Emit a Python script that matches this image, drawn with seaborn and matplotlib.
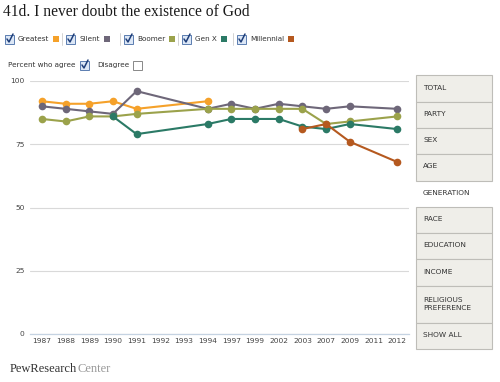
import numpy as np
import pandas as pd
import matplotlib.pyplot as plt
import seaborn as sns
from matplotlib.patches import Rectangle
from matplotlib.lines import Line2D

# ------------------------
# Data
# ------------------------
nan = np.nan
years = ["1987", "1988", "1989", "1990", "1991", "1992", "1993", "1994",
         "1997", "1999", "2002", "2003", "2007", "2009", "2011", "2012"]
greatest = [92, 91, 91, 92, 89, nan, nan, 92, nan, nan, nan, nan, nan, nan, nan, nan]
silent = [90, 89, 88, 87, 96, nan, nan, 89, 91, 89, 91, 90, 89, 90, nan, 89]
boomer = [85, 84, 86, 86, 87, nan, nan, 89, 89, 89, 89, 89, 83, 84, nan, 86]
gen_x = [nan, nan, nan, 86, 79, nan, nan, 83, 85, 85, 85, 82, 81, 83, nan, 81]
millennial = [nan, nan, nan, nan, nan, nan, nan, nan, nan, nan, nan, 81, 83, 76, nan, 68]

generations = ["Greatest", "Silent", "Boomer", "Gen X", "Millennial"]
gen_colors = ["#F5A12A", "#6E6779", "#9BA24B", "#2B7A66", "#B5591F"]
y_ticks = [0, 25, 50, 75, 100]
buttons = ["TOTAL", "PARTY", "SEX", "AGE", "GENERATION", "RACE", "EDUCATION",
           "INCOME", "RELIGIOUS\nPREFERENCE", "SHOW ALL"]
selected = "GENERATION"

rows = []
for gen, vals in zip(generations, [greatest, silent, boomer, gen_x, millennial]):
    for i, v in enumerate(vals):
        if not np.isnan(v):
            rows.append({"pos": i, "value": v, "gen": gen})
df = pd.DataFrame(rows)

# ------------------------
# Figure
# ------------------------
sns.set_style("white")
plt.rcParams["font.family"] = ["DejaVu Sans"]

W, H = 500, 382
fig = plt.figure(figsize=(W / 100, H / 100), dpi=100)


def fx(x):
    return x / W


def fy(y):
    return 1 - y / H


ax = fig.add_axes([fx(30), fy(334), fx(409) - fx(30), fy(81) - fy(334)])
sns.lineplot(data=df, x="pos", y="value", hue="gen", hue_order=generations,
             palette=dict(zip(generations, gen_colors)), marker="o",
             markersize=5.5, markeredgewidth=0, linewidth=1.5, legend=False, ax=ax)

ax.set_xlim(-0.5, len(years) - 0.5)
ax.set_ylim(0, 100)
ax.set_xticks(range(len(years)))
ax.set_xticklabels(years)
ax.set_xticks(np.arange(-0.5, len(years)), minor=True)
ax.set_yticks(y_ticks)
ax.set_xlabel("")
ax.set_ylabel("")
ax.grid(axis="y", color="#D9D9D9", linewidth=0.8)
ax.set_axisbelow(True)
for s in ["left", "top", "right"]:
    ax.spines[s].set_visible(False)
ax.spines["bottom"].set_color("#C5D3E2")
ax.spines["bottom"].set_linewidth(0.9)
ax.tick_params(axis="x", which="major", length=0, pad=3, labelsize=5.4, labelcolor="#444444")
ax.tick_params(axis="x", which="minor", length=4, color="#C5D3E2", width=0.8)
ax.tick_params(axis="y", length=0, pad=4, labelsize=5.4, labelcolor="#444444")

# Title
fig.text(fx(3), fy(12), "41d. I never doubt the existence of God", family="Liberation Serif",
         fontsize=11.2, color="#1A1A1A", va="center", ha="left")


def checkbox(x, y, checked=True):
    fig.patches.append(Rectangle((fx(x), fy(y + 4.5)), fx(9), 9 / H, transform=fig.transFigure,
                                 facecolor="#DCE7F6" if checked else "white",
                                 edgecolor="#5B7DB0" if checked else "#888888", linewidth=0.7))
    if checked:
        fig.lines.append(Line2D([fx(x + 2), fx(x + 4), fx(x + 8)], [fy(y), fy(y + 3), fy(y - 5)],
                                transform=fig.transFigure, color="#1F3F7A", linewidth=1.1))


# Legend row
legend_x = [5, 66, 124, 182, 237]
for i, (gen, col) in enumerate(zip(generations, gen_colors)):
    x0 = legend_x[i]
    checkbox(x0, 39)
    t = fig.text(fx(x0 + 13), fy(39), gen, fontsize=5.2, color="#333333", va="center", ha="left")
    fig.canvas.draw()
    bb = t.get_window_extent()
    fig.patches.append(Rectangle((fx(bb.x1 + 4), fy(42)), fx(6), 6 / H, transform=fig.transFigure,
                                 facecolor=col, edgecolor="none"))
    if i > 0:
        fig.lines.append(Line2D([fx(x0 - 4)] * 2, [fy(33), fy(45)], transform=fig.transFigure,
                                color="#CCCCCC", linewidth=0.6))

# Agree / disagree row
fig.text(fx(8), fy(65), "Percent who agree", fontsize=5.2, color="#333333", va="center", ha="left")
checkbox(80, 65, True)
fig.text(fx(97), fy(65), "Disagree", fontsize=5.2, color="#333333", va="center", ha="left")
checkbox(133, 65, False)

# Right-side buttons
edges = [75, 102, 128, 154, 181, 207, 233, 259, 286, 323, 349]
for i, lab in enumerate(buttons):
    top, bot = edges[i], edges[i + 1]
    if lab != selected:
        fig.patches.append(Rectangle((fx(416), fy(bot)), fx(76), (bot - top) / H,
                                     transform=fig.transFigure, facecolor="#EFEEE9",
                                     edgecolor="#BEBDB8", linewidth=0.8))
    fig.text(fx(423), fy((top + bot) / 2 - 1), lab, fontsize=5.3, color="#333333",
             va="center", ha="left", linespacing=1.4)

# Footer
t1 = fig.text(fx(10), fy(369), "PewResearch", family="Liberation Serif", fontsize=9,
              color="#333333", va="center", ha="left")
fig.canvas.draw()
bb = t1.get_window_extent()
fig.text(bb.x1 / W, fy(369), "Center", family="Liberation Serif", fontsize=9,
         color="#999999", va="center", ha="left")

fig.savefig("out.png", dpi=100)
